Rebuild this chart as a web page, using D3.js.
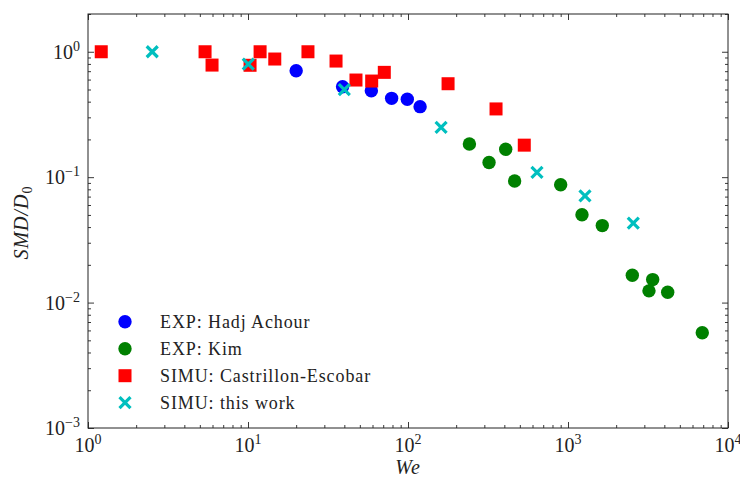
<!DOCTYPE html>
<html>
<head>
<meta charset="utf-8">
<script src="https://cdn.jsdelivr.net/npm/d3@7"></script>
<style>
  body { margin: 0; background: #fff; }
  text { font-family: "Liberation Serif", "DejaVu Serif", serif; fill: #222; }
</style>
</head>
<body>
<div id="chart-area"></div>
<script>
// We vs SMD/D0, log-log
const hadjWe  = [20, 39, 59, 79, 99, 119]
const hadjSmd = [0.706, 0.526, 0.489, 0.425, 0.418, 0.365]

const kimWe  = [242, 321, 408, 464, 900, 1223, 1638, 2523, 3383, 3207, 4198, 6905]
const kimSmd = [0.184, 0.131, 0.167, 0.0933, 0.0871, 0.0502, 0.0411, 0.0165, 0.01525, 0.0124, 0.0121, 0.00574]

const castWe  = [1.21, 5.39, 5.96, 10.3, 11.9, 14.7, 23.7, 35.5, 47.3, 59.3, 71.1, 178, 355, 533]
const castSmd = [1.0, 1.0, 0.783, 0.78, 1.0, 0.875, 1.0, 0.843, 0.595, 0.584, 0.685, 0.556, 0.35, 0.18]

const workWe  = [2.52, 10.04, 40, 161, 640, 1277, 2559]
const workSmd = [1.0, 0.798, 0.5, 0.25, 0.109, 0.0708, 0.043]

const xMajor = [1, 10, 100, 1000, 10000]
const yMajor = [0.001, 0.01, 0.1, 1]
const xExp = ["0", "1", "2", "3", "4"]
const yExp = ["\u22123", "\u22122", "\u22121", "0"]

const legendLabels = ["EXP: Hadj Achour", "EXP: Kim", "SIMU: Castrillon-Escobar", "SIMU: this work"]

const W = 740, H = 478
const LEFT = 88, RIGHT = 728, TOP = 14, BOTTOM = 428

const svg = d3.select("#chart-area").append("svg")
    .attr("width", W)
    .attr("height", H)
    .attr("font-family", "'Liberation Serif', 'DejaVu Serif', serif")

const x = d3.scaleLog().domain([1, 1e4]).range([LEFT, RIGHT])
const y = d3.scaleLog().domain([1e-3, 2]).range([BOTTOM, TOP])

// minor tick values
const xMinor = []
for (let e = 0; e < 4; e++) for (let k = 2; k <= 9; k++) xMinor.push(k * Math.pow(10, e))
const yMinor = []
for (let e = -3; e < 1; e++) for (let k = 2; k <= 9; k++) {
    const v = k * Math.pow(10, e)
    if (v <= 2) yMinor.push(v)
}

function addAxis(axisFn, scale, transform, values, size) {
    const g = svg.append("g")
        .attr("transform", transform)
        .call(axisFn(scale).tickValues(values).tickSizeInner(-size).tickSizeOuter(0).tickFormat(""))
    g.select(".domain").remove()
    g.selectAll(".tick line").attr("stroke", "#222").attr("stroke-width", 0.9)
    return g
}

// ticks, inward on all sides
addAxis(d3.axisBottom, x, `translate(0,${BOTTOM})`, xMajor, 6)
addAxis(d3.axisBottom, x, `translate(0,${BOTTOM})`, xMinor, 3)
addAxis(d3.axisTop, x, `translate(0,${TOP})`, xMajor, 6)
addAxis(d3.axisTop, x, `translate(0,${TOP})`, xMinor, 3)
addAxis(d3.axisLeft, y, `translate(${LEFT},0)`, yMajor, 6)
addAxis(d3.axisLeft, y, `translate(${LEFT},0)`, yMinor, 3)
addAxis(d3.axisRight, y, `translate(${RIGHT},0)`, yMajor, 6)
addAxis(d3.axisRight, y, `translate(${RIGHT},0)`, yMinor, 3)

// frame
svg.append("rect")
    .attr("x", LEFT).attr("y", TOP)
    .attr("width", RIGHT - LEFT).attr("height", BOTTOM - TOP)
    .attr("fill", "none").attr("stroke", "#222").attr("stroke-width", 1)

// tick labels with superscripts
xMajor.forEach((v, i) => {
    const t = svg.append("text")
        .attr("x", x(v))
        .attr("y", BOTTOM + 24)
        .attr("text-anchor", "middle")
        .attr("font-size", "20px")
    t.append("tspan").text("10")
    t.append("tspan").attr("font-size", "14px").attr("dy", -8).text(xExp[i])
})

yMajor.forEach((v, i) => {
    const t = svg.append("text")
        .attr("x", LEFT - 8)
        .attr("y", y(v) + 7)
        .attr("text-anchor", "end")
        .attr("font-size", "20px")
    t.append("tspan").text("10")
    t.append("tspan").attr("font-size", "14px").attr("dy", -8).text(yExp[i])
})

// axis titles
svg.append("text")
    .attr("x", (LEFT + RIGHT) / 2)
    .attr("y", 474)
    .attr("text-anchor", "middle")
    .attr("font-size", "20px")
    .attr("font-style", "italic")
    .attr("letter-spacing", 1)
    .text("We")

const yt = svg.append("text")
    .attr("transform", "translate(28, 222.5) rotate(-90)")
    .attr("text-anchor", "middle")
    .attr("font-size", "20px")
    .attr("font-style", "italic")
    .attr("letter-spacing", 1)
yt.append("tspan").text("SMD/D")
yt.append("tspan").attr("font-size", "14px").attr("font-style", "normal").attr("dy", 4).text("0")

// markers
const BLUE = "#0000ff", GREEN = "#008000", RED = "#ff0000", CYAN = "#00bfbf"
const crossPath = s => `M${-s},${-s}L${s},${s}M${-s},${s}L${s},${-s}`

function circles(xs, ys, color) {
    svg.append("g").selectAll("circle")
        .data(xs.map((d, i) => [d, ys[i]]))
        .enter().append("circle")
        .attr("cx", d => x(d[0]))
        .attr("cy", d => y(d[1]))
        .attr("r", 6.7)
        .attr("fill", color)
}

function squares(xs, ys, color) {
    svg.append("g").selectAll("rect")
        .data(xs.map((d, i) => [d, ys[i]]))
        .enter().append("rect")
        .attr("x", d => x(d[0]) - 6.5)
        .attr("y", d => y(d[1]) - 6.5)
        .attr("width", 13)
        .attr("height", 13)
        .attr("fill", color)
}

function crosses(xs, ys, color) {
    svg.append("g").selectAll("path")
        .data(xs.map((d, i) => [d, ys[i]]))
        .enter().append("path")
        .attr("transform", d => `translate(${x(d[0])},${y(d[1])})`)
        .attr("d", crossPath(5.5))
        .attr("stroke", color)
        .attr("stroke-width", 3.2)
        .attr("fill", "none")
}

circles(hadjWe, hadjSmd, BLUE)
circles(kimWe, kimSmd, GREEN)
squares(castWe, castSmd, RED)
crosses(workWe, workSmd, CYAN)

// legend
const legend = svg.append("g")
legendLabels.forEach((label, i) => {
    const ly = 321.7 + i * 27
    if (i === 0 || i === 1) {
        legend.append("circle").attr("cx", 125).attr("cy", ly).attr("r", 6.7)
            .attr("fill", i === 0 ? BLUE : GREEN)
    } else if (i === 2) {
        legend.append("rect").attr("x", 118.5).attr("y", ly - 6.5)
            .attr("width", 13).attr("height", 13).attr("fill", RED)
    } else {
        legend.append("path").attr("transform", `translate(125,${ly})`)
            .attr("d", crossPath(5.5)).attr("stroke", CYAN)
            .attr("stroke-width", 3.2).attr("fill", "none")
    }
    legend.append("text")
        .attr("x", 160)
        .attr("y", ly + 6)
        .attr("font-size", "18px")
        .attr("letter-spacing", 0.9)
        .text(label)
})
</script>
</body>
</html>
